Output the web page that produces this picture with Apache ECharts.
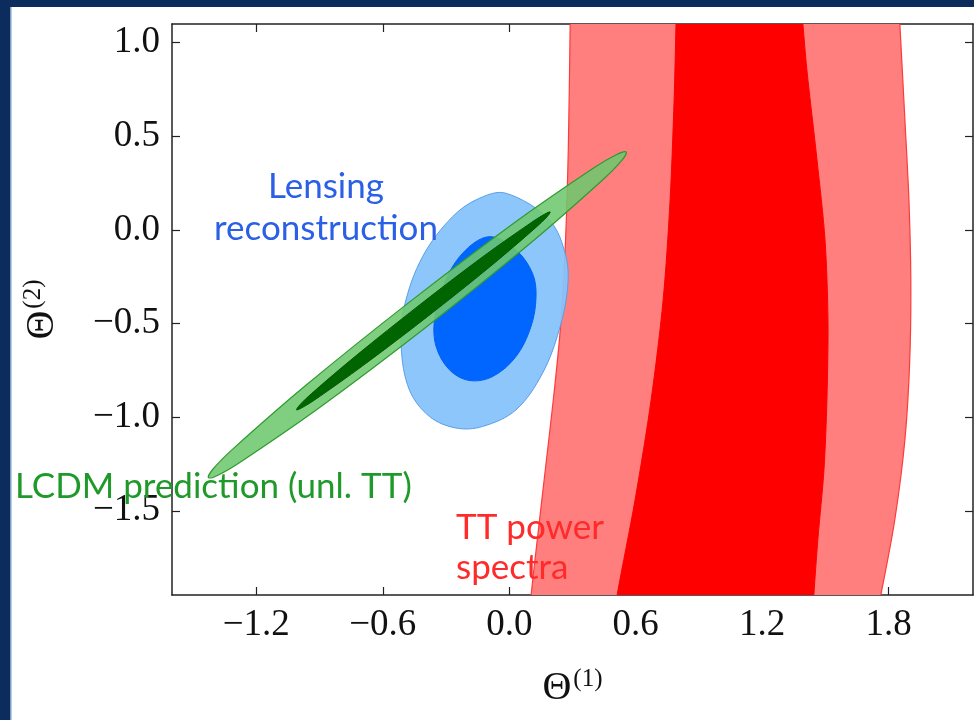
<!DOCTYPE html>
<html>
<head>
<meta charset="utf-8">
<script src="https://cdn.jsdelivr.net/npm/echarts@6/dist/echarts.min.js"></script>
<style>
html,body{margin:0;padding:0;background:#fff;}
#chart{width:974px;height:720px;}
</style>
</head>
<body>
<div id="chart"></div>
<script>
// Axis ticks
const xTicks = [-1.2, -0.6, 0.0, 0.6, 1.2, 1.8];
const yTicks = [-1.5, -1.0, -0.5, 0.0, 0.5, 1.0];

// TT power spectra contours (Θ1, Θ2)
const ttOuter = [
  [0.290, 1.20], [0.289, 1.099], [0.280, 0.427], [0.265, -0.107], [0.242, -0.534],
  [0.209, -0.907], [0.171, -1.281], [0.133, -1.654], [0.104, -1.948], [0.098, -2.05],
  [1.740, -2.05], [1.763, -1.948], [1.829, -1.548], [1.877, -1.121], [1.900, -0.694],
  [1.905, -0.267], [1.896, 0.160], [1.877, 0.587], [1.853, 1.099], [1.848, 1.20]
];
const ttInner = [
  [0.793, 1.20], [0.791, 1.099], [0.782, 0.694], [0.763, 0.160], [0.730, -0.374],
  [0.673, -0.907], [0.597, -1.441], [0.512, -1.948], [0.500, -2.05],
  [1.440, -2.05], [1.445, -1.948], [1.464, -1.654], [1.493, -1.281], [1.507, -0.907],
  [1.512, -0.480], [1.498, -0.053], [1.460, 0.374], [1.412, 0.854], [1.393, 1.099], [1.385, 1.20]
];

// Lensing reconstruction contours
const lensOuter = [
  [-0.016, 0.196], [0.190, 0.053], [0.269, -0.142], [0.276, -0.320], [0.237, -0.534],
  [0.158, -0.765], [0.032, -0.961], [-0.127, -1.050], [-0.253, -1.058], [-0.379, -0.996],
  [-0.474, -0.854], [-0.513, -0.623], [-0.498, -0.409], [-0.411, -0.142], [-0.269, 0.071],
  [-0.142, 0.169]
];
const lensInner = [
  [-0.095, -0.036], [0.032, -0.107], [0.110, -0.231], [0.127, -0.356], [0.103, -0.516],
  [0.032, -0.676], [-0.079, -0.783], [-0.190, -0.804], [-0.284, -0.747], [-0.347, -0.623],
  [-0.355, -0.480], [-0.316, -0.303], [-0.221, -0.124]
];

// LCDM prediction (unlensed TT) contours
const lcdmOuter = [
  [0.555, 0.416], [0.533, 0.370], [0.444, 0.268], [0.097, -0.074], [-0.392, -0.517],
  [-0.893, -0.943], [-1.273, -1.238], [-1.382, -1.310], [-1.427, -1.323], [-1.405, -1.277],
  [-1.316, -1.175], [-0.969, -0.834], [-0.480, -0.391], [0.021, 0.036], [0.400, 0.331],
  [0.510, 0.403]
];
const lcdmInner = [
  [0.194, 0.096], [0.179, 0.070], [0.124, 0.011], [-0.089, -0.194], [-0.387, -0.462],
  [-0.691, -0.722], [-0.918, -0.904], [-0.984, -0.950], [-1.009, -0.961], [-0.994, -0.935],
  [-0.939, -0.875], [-0.726, -0.671], [-0.428, -0.403], [-0.124, -0.142], [0.104, 0.039],
  [0.169, 0.085]
];

function polySeries(name, pts, fill, stroke, lw, z, smooth) {
  return {
    type: 'custom',
    name: name,
    xAxisIndex: 0, yAxisIndex: 0,
    data: pts,
    z: z,
    silent: true,
    renderItem: function (params, api) {
      if (params.dataIndex !== 0) return null;
      const cs = params.coordSys;
      const points = pts.map(p => api.coord(p));
      return {
        type: 'group',
        clipPath: { type: 'rect', shape: { x: cs.x, y: cs.y, width: cs.width, height: cs.height } },
        children: [{
          type: 'polygon',
          shape: { points: points, smooth: smooth },
          style: { fill: fill, stroke: stroke, lineWidth: lw }
        }]
      };
    }
  };
}

const serif = '"Liberation Serif", "DejaVu Serif", serif';
const sans = 'Lato, "Open Sans", "Noto Sans", sans-serif';
const fmt = v => (Math.abs(v) < 1e-9 ? '0.0' : v.toFixed(1)).replace('-', '\u2212');
const axisLine = { show: true, onZero: false, lineStyle: { color: '#222', width: 1.5 } };
const tickStyle = { color: '#222', width: 1.2 };

const chart = echarts.init(document.getElementById('chart'), null, { renderer: 'canvas' });
chart.setOption({
  backgroundColor: '#ffffff',
  animation: false,
  grid: { left: 172, right: 1, top: 24, bottom: 125, containLabel: false },
  xAxis: [{
    type: 'value', min: -1.6, max: 2.2, position: 'bottom',
    axisLine: axisLine,
    axisTick: { show: true, inside: true, length: 8, lineStyle: tickStyle, customValues: xTicks },
    axisLabel: { show: true, customValues: xTicks, formatter: fmt, margin: 12,
      fontFamily: serif, fontSize: 37, color: '#111' },
    splitLine: { show: false },
    name: '{t|\u0398}{s|(1)}', nameLocation: 'middle', nameGap: 72,
    nameTextStyle: { rich: {
      t: { fontFamily: serif, fontSize: 40, color: '#111' },
      s: { fontFamily: serif, fontSize: 25, color: '#111', verticalAlign: 'top', padding: [0, 0, 18, 2] }
    } }
  }, {
    type: 'value', min: -1.6, max: 2.2, position: 'top',
    axisLine: axisLine,
    axisTick: { show: true, inside: true, length: 8, lineStyle: tickStyle, customValues: xTicks },
    axisLabel: { show: false, customValues: xTicks },
    splitLine: { show: false }
  }],
  yAxis: [{
    type: 'value', min: -1.95, max: 1.1, position: 'left',
    axisLine: axisLine,
    axisTick: { show: true, inside: true, length: 8, lineStyle: tickStyle, customValues: yTicks },
    axisLabel: { show: true, customValues: yTicks, formatter: fmt, margin: 12,
      fontFamily: serif, fontSize: 37, color: '#111' },
    splitLine: { show: false },
    name: '{t|\u0398}{s|(2)}', nameLocation: 'middle', nameGap: 108, nameRotate: 90,
    nameTextStyle: { rich: {
      t: { fontFamily: serif, fontSize: 40, color: '#111' },
      s: { fontFamily: serif, fontSize: 25, color: '#111', verticalAlign: 'top', padding: [0, 0, 18, 2] }
    } }
  }, {
    type: 'value', min: -1.95, max: 1.1, position: 'right',
    axisLine: axisLine,
    axisTick: { show: true, inside: true, length: 8, lineStyle: tickStyle, customValues: yTicks },
    axisLabel: { show: false, customValues: yTicks },
    splitLine: { show: false }
  }],
  series: [
    polySeries('TT outer', ttOuter, '#ff7f7f', '#ff3a3a', 1.2, 1, 0.3),
    polySeries('TT inner', ttInner, '#ff0000', '#ff0000', 1, 2, 0.3),
    polySeries('Lens outer', lensOuter, 'rgba(135,195,250,0.95)', '#5a9ee8', 1, 3, 0.35),
    polySeries('Lens inner', lensInner, '#0066ff', '#0060f0', 1, 4, 0.35),
    polySeries('LCDM outer', lcdmOuter, 'rgba(110,200,110,0.88)', '#2f9a2f', 1.2, 5, 0.35),
    polySeries('LCDM inner', lcdmInner, '#006400', '#005a00', 1, 6, 0.35)
  ],
  graphic: [
    { type: 'rect', left: 0, top: 0, shape: { width: 974, height: 7 }, style: { fill: '#0b2c5c' }, z: 100 },
    { type: 'rect', left: 0, top: 0, shape: { width: 10, height: 720 }, style: { fill: '#0b2c5c' }, z: 100 },
    { type: 'rect', left: 10, top: 7, shape: { width: 1.5, height: 713 }, style: { fill: '#7d9cc4' }, z: 100 },
    { type: 'text', x: 326, y: 187, z: 100, style: { text: 'Lensing', font: '35px ' + sans, fill: '#2a5fe6', align: 'center', verticalAlign: 'middle' } },
    { type: 'text', x: 326, y: 229, z: 100, style: { text: 'reconstruction', font: '35px ' + sans, fill: '#2a5fe6', align: 'center', verticalAlign: 'middle' } },
    { type: 'text', x: 15, y: 487, z: 100, style: { text: 'LCDM prediction (unl. TT)', font: '35px ' + sans, fill: '#1f9a2a', align: 'left', verticalAlign: 'middle' } },
    { type: 'text', x: 456, y: 528, z: 100, style: { text: 'TT power', font: '35px ' + sans, fill: '#ff2a2a', align: 'left', verticalAlign: 'middle' } },
    { type: 'text', x: 456, y: 568, z: 100, style: { text: 'spectra', font: '35px ' + sans, fill: '#ff2a2a', align: 'left', verticalAlign: 'middle' } }
  ]
});
</script>
</body>
</html>
